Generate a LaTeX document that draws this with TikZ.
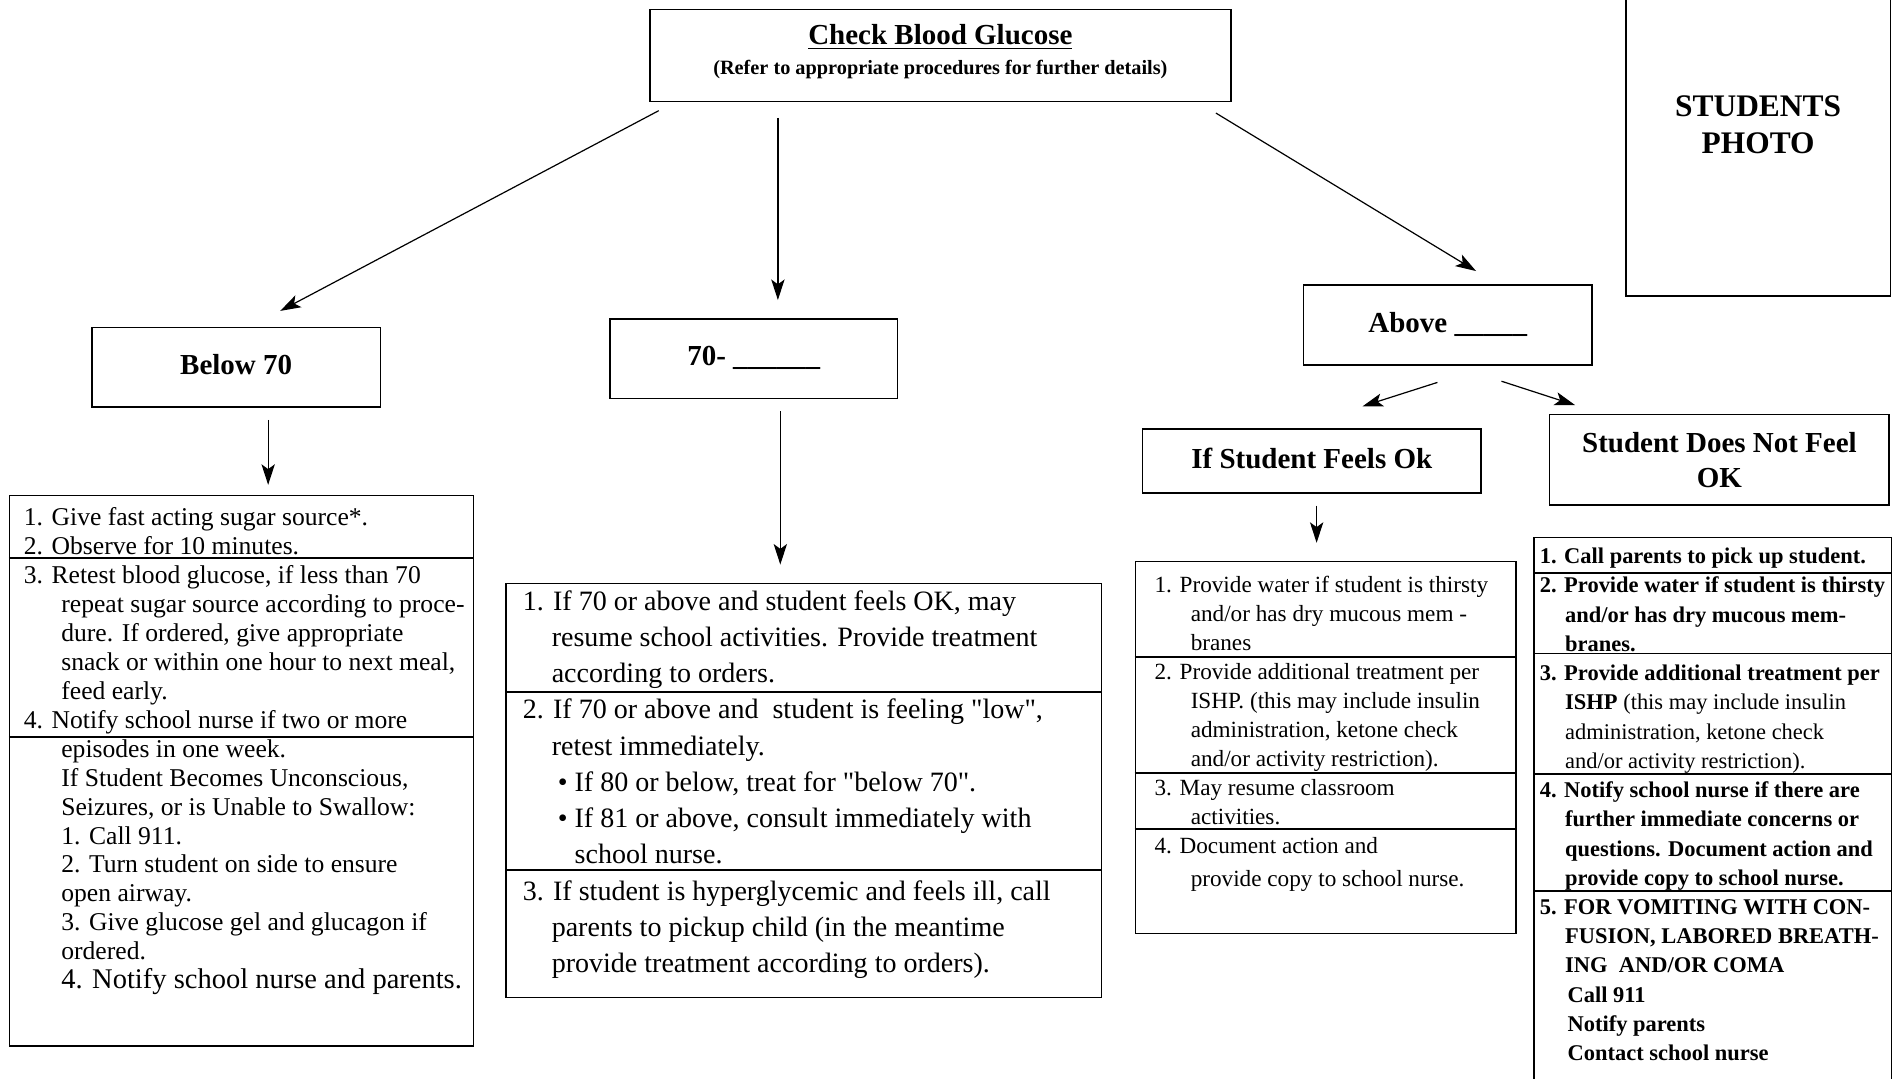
\documentclass[tikz,border=0pt]{standalone}
\usepackage{fontspec}
\setmainfont{Liberation Serif}
\usetikzlibrary{arrows.meta,positioning}
\newcommand{\pushin}[1]{\hspace*{#1}}

\begin{document}
\begin{tikzpicture}[x=0.5pt,y=-0.5pt,
    box/.style={draw,line width=0.6pt,inner sep=0pt},
    head/.style={box,align=center,font=\fontsize{12}{14.5}\selectfont\bfseries},
    oneline/.style={text height=8.5pt,text depth=2.5pt},
    list/.style={anchor=north west,inner sep=0pt,align=left},
    divider/.style={line width=0.8pt},
    arr/.style={-{Stealth[length=8.5pt,width=5.5pt,inset=2pt]},line width=0.5pt}]
      \useasboundingbox[fill=white] (0,0) rectangle (1568,893);

      \node[box,align=center,font=\bfseries,minimum width=240.5pt,minimum height=38pt] (check) at (778.5,46)
        {\fontsize{12}{14}\selectfont\underline{Check Blood Glucose}\\[0.3pt]\fontsize{8.4}{10}\selectfont(Refer to appropriate procedures for further details)\rule[-4.8pt]{0pt}{4.8pt}};
      \node[head,align=center,font=\fontsize{13}{15.5}\selectfont\bfseries,minimum width=109.5pt,minimum height=141.5pt] (photo) at (1455.5,103.5) {STUDENTS\\PHOTO};

      \node[head,oneline,minimum width=119.5pt,minimum height=33pt] (below) at (195.5,304) {Below 70};
      \node[head,oneline,minimum width=119pt,minimum height=33pt] (range) at (624,297) {70- \_\_\_\_\_\_};
      \node[head,oneline,minimum width=119.5pt,minimum height=33pt] (above) at (1198.5,269) {Above \_\_\_\_\_};
      \node[head,oneline,minimum width=140pt,minimum height=26.5pt] (ok) at (1086,381.5) {If Student Feels Ok};
      \node[head,minimum width=140.5pt,minimum height=37.5pt] (notok) at (1423.5,380.5) {Student Does Not Feel\\OK};

      \node[box,minimum width=192pt,minimum height=228pt] (lowlist) at (200,638) {};
      \node[box,minimum width=246.5pt,minimum height=171.5pt] (midlist) at (665.5,654.5) {};
      \node[box,minimum width=157.5pt,minimum height=154pt] (oklist) at (1097.5,619) {};
      \node[box,minimum width=148pt,minimum height=277.5pt] (sicklist) at (1418,722.5) {};

      \draw[arr] ([shift={(8,7)}]check.south west) -- ([shift={(36.5,-13)}]below.north);
      \draw[arr] ([shift={(-134.5,13)}]check.south) -- ([shift={(20,-15)}]range.north);
      \draw[arr] ([shift={(-13,9)}]check.south east) -- ([shift={(23.5,-11)}]above.north);
      \draw[arr] ([shift={(26.5,10)}]below.south) -- ([shift={(22,-8)}]lowlist.north);
      \draw[arr] ([shift={(22,10)}]range.south) -- ([shift={(-19.5,-15)}]midlist.north);
      \draw[arr] ([shift={(-8.5,14)}]above.south) -- ([shift={(42,-18)}]ok.north);
      \draw[arr] ([shift={(44.5,13)}]above.south) -- ([shift={(-119.5,-7)}]notok.north);
      \draw[arr] ([shift={(4,10)}]ok.south) -- ([shift={(-7.5,-15)}]oklist.north);

      \draw[divider] (lowlist.west |- 0,462) -- (lowlist.east |- 0,462);
      \draw[divider] (lowlist.west |- 0,610) -- (lowlist.east |- 0,610);
      \draw[divider] (midlist.west |- 0,573) -- (midlist.east |- 0,573);
      \draw[divider] (midlist.west |- 0,720) -- (midlist.east |- 0,720);
      \draw[divider] (oklist.west |- 0,544) -- (oklist.east |- 0,544);
      \draw[divider] (oklist.west |- 0,640) -- (oklist.east |- 0,640);
      \draw[divider] (oklist.west |- 0,686) -- (oklist.east |- 0,686);
      \draw[divider] (sicklist.west |- 0,474) -- (sicklist.east |- 0,474);
      \draw[divider] (sicklist.west |- 0,541) -- (sicklist.east |- 0,541);
      \draw[divider] (sicklist.west |- 0,641) -- (sicklist.east |- 0,641);
      \draw[divider] (sicklist.west |- 0,738) -- (sicklist.east |- 0,738);

      \node[list,font=\fontsize{10.6}{12}\selectfont] (lowtext) at ([shift={(12,10)}]lowlist.north west) {
        1. Give fast acting sugar source*.\\
        2. Observe for 10 minutes.\\
        3. Retest blood glucose, if less than 70\\
        \pushin{15.5pt}repeat sugar source according to proce-\\
        \pushin{15.5pt}dure. If ordered, give appropriate\\
        \pushin{15.5pt}snack or within one hour to next meal,\\
        \pushin{15.5pt}feed early.\\
        4. Notify school nurse if two or more\\
        \pushin{15.5pt}episodes in one week.\\
        \pushin{15.5pt}If Student Becomes Unconscious,\\
        \pushin{15.5pt}Seizures, or is Unable to Swallow:\\
        \pushin{15.5pt}1. Call 911.\\
        \pushin{15.5pt}2. Turn student on side to ensure\\
        \pushin{15.5pt}open airway.\\
        \pushin{15.5pt}3. Give glucose gel and glucagon if\\
        \pushin{15.5pt}ordered.\\
        \pushin{15.5pt}{\fontsize{11.8}{12}\selectfont 4. Notify school nurse and parents.}};

      \node[list,font=\fontsize{11.6}{15}\selectfont] (midtext) at ([shift={(14,6)}]midlist.north west) {
        1. If 70 or above and student feels OK, may\\
        \pushin{12pt}resume school activities. Provide treatment\\
        \pushin{12pt}according to orders.\\
        2. If 70 or above and \ student is feeling \textquotedbl low\textquotedbl,\\
        \pushin{12pt}retest immediately.\\
        \pushin{14.5pt}\textbullet\ If 80 or below, treat for \textquotedbl below 70\textquotedbl.\\
        \pushin{14.5pt}\textbullet\ If 81 or above, consult immediately with\\
        \pushin{21.5pt}school nurse.\\
        3. If student is hyperglycemic and feels ill, call\\
        \pushin{12pt}parents to pickup child (in the meantime\\
        \pushin{12pt}provide treatment according to orders).};

      \node[list,font=\fontsize{9.6}{12}\selectfont] (oktext) at ([shift={(16,12)}]oklist.north west) {
        1. Provide water if student is thirsty\\
        \pushin{15pt}and/or has dry mucous mem -\\
        \pushin{15pt}branes\\
        2. Provide additional treatment per\\
        \pushin{15pt}ISHP. (this may include insulin\\
        \pushin{15pt}administration, ketone check\\
        \pushin{15pt}and/or activity restriction).\\
        3. May resume classroom\\
        \pushin{15pt}activities.\\
        4. Document action and\\[2pt]
        \pushin{15pt}provide copy to school nurse.};

      \node[list,font=\fontsize{9.3}{12.1}\selectfont\bfseries] (sicktext) at ([shift={(5,9)}]sicklist.north west) {
        1. Call parents to pick up student.\\
        2. Provide water if student is thirsty\\
        \pushin{10.5pt}and/or has dry mucous mem-\\
        \pushin{10.5pt}branes.\\
        3. Provide additional treatment per\\
        \pushin{10.5pt}ISHP {\mdseries (this may include insulin}\\
        \pushin{10.5pt}{\mdseries administration, ketone check}\\
        \pushin{10.5pt}{\mdseries and/or activity restriction).}\\
        4. Notify school nurse if there are\\
        \pushin{10.5pt}further immediate concerns or\\
        \pushin{10.5pt}questions. Document action and\\
        \pushin{10.5pt}provide copy to school nurse.\\
        5. FOR VOMITING WITH CON-\\
        \pushin{10.5pt}FUSION, LABORED BREATH-\\
        \pushin{10.5pt}ING \ AND/OR COMA\\
        \pushin{11.5pt}Call 911\\
        \pushin{11.5pt}Notify parents\\
        \pushin{11.5pt}Contact school nurse};
\end{tikzpicture}
\end{document}
